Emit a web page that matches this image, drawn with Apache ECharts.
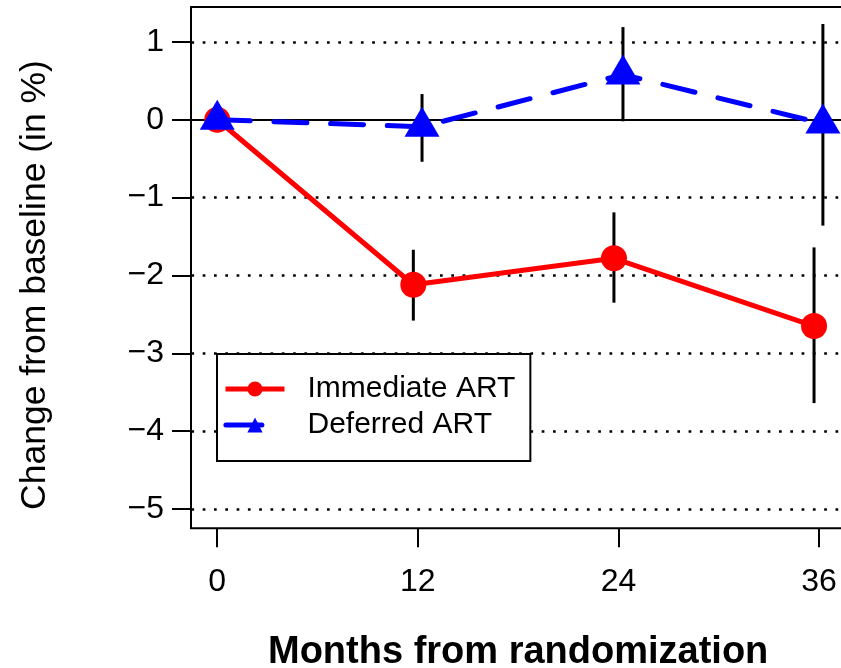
<!DOCTYPE html>
<html>
<head>
<meta charset="utf-8">
<script src="https://cdn.jsdelivr.net/npm/echarts@6/dist/echarts.min.js"></script>
<style>
  html, body { margin: 0; padding: 0; background: #fff; overflow: hidden; }
  /* the plot box runs a few pixels past the right edge of the page */
  #chart { width: 848px; height: 668px; }
</style>
</head>
<body>
<div id="chart"></div>
<script>
// Visit months (points are nudged apart horizontally so the two arms don't overlap)
const monthTicks = [0, 12, 24, 36];
const monthsImmediate = [0, 11.73, 23.73, 35.7];
const monthsDeferred = [0, 12.25, 24.27, 36.23];

// Mean change from baseline (%) with 95% interval limits
const immediateMean = [0, -2.12, -1.78, -2.65];
const immediateLow = [null, -2.58, -2.35, -3.64];
const immediateHigh = [null, -1.67, -1.19, -1.64];

const deferredMean = [0, -0.09, 0.58, -0.05];
const deferredLow = [null, -0.54, -0.02, -1.36];
const deferredHigh = [null, 0.33, 1.19, 1.23];

// Y axis ticks and reference lines
const yTicks = [-5, -4, -3, -2, -1, 0, 1];
const dottedLevels = [-5, -4, -3, -2, -1, 1];
const seriesNames = ['Immediate ART', 'Deferred ART'];

const FONT = '"Liberation Sans", Arial, Helvetica, sans-serif';

function pairs(xs, ys) {
  return xs.map((x, i) => [x, ys[i]]);
}
function bars(xs, lo, hi) {
  const out = [];
  xs.forEach((x, i) => {
    if (lo[i] != null && hi[i] != null) out.push([x, lo[i], hi[i]]);
  });
  return out;
}
const errorBars = bars(monthsImmediate, immediateLow, immediateHigh)
  .concat(bars(monthsDeferred, deferredLow, deferredHigh));

const chart = echarts.init(document.getElementById('chart'), null, { renderer: 'canvas' });

const option = {
  animation: false,
  backgroundColor: '#fff',
  grid: {
    left: 191, top: 7, right: 2.7, bottom: 139.7,
    outerBoundsMode: 'none',
    containLabel: false,
    show: true, borderColor: '#000', borderWidth: 2, backgroundColor: 'transparent'
  },
  xAxis: {
    type: 'value',
    min: -1.57, max: 37.57,
    axisLine: { show: false, onZero: false },
    axisTick: {
      show: true, length: 19, inside: false, customValues: monthTicks,
      lineStyle: { color: '#000', width: 2 }
    },
    axisLabel: {
      customValues: monthTicks, margin: 38,
      fontSize: 32, color: '#000', fontFamily: FONT
    },
    splitLine: { show: false },
    name: 'Months from randomization',
    nameLocation: 'middle',
    nameGap: 105,
    nameTextStyle: { fontSize: 38, fontWeight: 'bold', color: '#000', fontFamily: FONT }
  },
  yAxis: {
    type: 'value',
    min: -5.248, max: 1.448,
    axisLine: { show: false, onZero: false },
    axisTick: {
      show: true, length: 19, customValues: yTicks,
      lineStyle: { color: '#000', width: 2 }
    },
    axisLabel: {
      customValues: yTicks, margin: 27,
      fontSize: 32, color: '#000', fontFamily: FONT,
      formatter: v => (v < 0 ? '\u2212' + Math.abs(v) : String(v))
    },
    splitLine: { show: false }
  },
  legend: {
    data: [
      { name: seriesNames[0], lineStyle: { width: 5 } },
      { name: seriesNames[1], lineStyle: { width: 5, type: [36, 40] } }
    ],
    orient: 'vertical',
    left: 217, top: 354,
    backgroundColor: '#fff',
    borderColor: '#000', borderWidth: 2, borderRadius: 0,
    padding: [20, 15, 21, 6],
    itemWidth: 59, itemHeight: 19, itemGap: 6,
    z: 20,
    textStyle: {
      fontSize: 30, lineHeight: 30, color: '#000', fontFamily: FONT,
      padding: [0, 0, 0, 18]
    }
  },
  graphic: [{
    type: 'text',
    x: 35, y: 285,
    rotation: Math.PI / 2,
    style: {
      text: 'Change from baseline (in %)',
      font: '35.5px ' + FONT,
      fill: '#000',
      textAlign: 'center',
      textVerticalAlign: 'middle'
    }
  }],
  series: [
    {
      name: 'errorbars',
      type: 'custom',
      z: 8,
      silent: true,
      encode: { x: 0, y: [1, 2] },
      data: errorBars,
      renderItem: function (params, api) {
        const hi = api.coord([api.value(0), api.value(2)]);
        const lo = api.coord([api.value(0), api.value(1)]);
        return {
          type: 'line',
          shape: { x1: hi[0], y1: hi[1], x2: lo[0], y2: lo[1] },
          style: { stroke: '#000', lineWidth: 3 }
        };
      },
      markLine: {
        silent: true,
        z: 1,
        symbol: ['none', 'none'],
        label: { show: false },
        data: dottedLevels.map(v => ({
          yAxis: v,
          lineStyle: { type: [2.7, 8.6], dashOffset: -0.4, width: 2.7, color: '#000' }
        })).concat([{
          yAxis: 0,
          lineStyle: { type: 'solid', width: 2, color: '#000' }
        }])
      }
    },
    {
      name: seriesNames[0],
      type: 'line',
      z: 10,
      data: pairs(monthsImmediate, immediateMean),
      symbol: 'circle',
      symbolSize: 26,
      itemStyle: { color: '#ff0000' },
      lineStyle: { color: '#ff0000', width: 5 }
    },
    {
      name: seriesNames[1],
      type: 'line',
      z: 11,
      data: pairs(monthsDeferred, deferredMean),
      symbol: 'triangle',
      symbolSize: [35, 30],
      symbolOffset: [0, -5],
      itemStyle: { color: '#0000ff' },
      lineStyle: { color: '#0000ff', width: 5, type: [33, 23.7], cap: 'round' }
    }
  ]
};

chart.setOption(option);
</script>
</body>
</html>
